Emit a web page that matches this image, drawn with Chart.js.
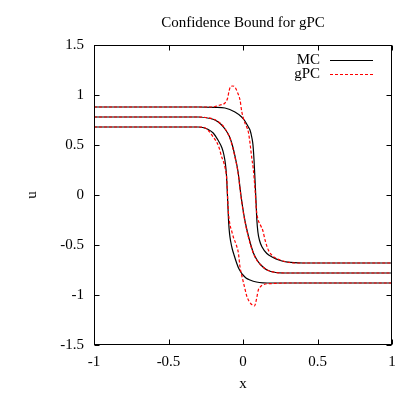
<!DOCTYPE html>
<html>
<head>
<meta charset="utf-8">
<script src="https://cdn.jsdelivr.net/npm/chart.js@4.4.0/dist/chart.umd.min.js"></script>
<style>
  html, body { margin: 0; padding: 0; background: #fff; }
  canvas { display: block; }
</style>
</head>
<body>
<canvas id="chart" width="415" height="395"></canvas>
<script>
// Axis ticks.
const xTicks = [-1, -0.5, 0, 0.5, 1];
const yTicks = [-1.5, -1, -0.5, 0, 0.5, 1, 1.5];

// MC: mean and the two confidence bounds.
const mcMeanX = [-1, -0.3, -0.22, -0.188, -0.15, -0.121, -0.1, -0.087, -0.07, -0.054, -0.034, -0.014, 0.005, 0.025, 0.047, 0.07, 0.094, 0.12, 0.161, 0.22, 0.3, 1];
const mcMeanY = [0.78, 0.78, 0.765, 0.75, 0.71, 0.66, 0.61, 0.57, 0.49, 0.39, 0.24, 0.0, -0.19, -0.34, -0.47, -0.58, -0.65, -0.70, -0.75, -0.775, -0.78, -0.78];

const mcUpX = [-1, -0.3, -0.188, -0.121, -0.054, -0.009, 0.013, 0.036, 0.047, 0.06, 0.067, 0.074, 0.08, 0.087, 0.093, 0.1, 0.11, 0.128, 0.16, 0.195, 0.25, 0.3, 0.4, 1];
const mcUpY = [0.88, 0.88, 0.877, 0.87, 0.83, 0.78, 0.74, 0.68, 0.65, 0.57, 0.5, 0.35, 0.17, -0.05, -0.25, -0.37, -0.45, -0.52, -0.585, -0.62, -0.655, -0.672, -0.68, -0.68];

const mcLowX = [-1, -0.3, -0.27, -0.24, -0.2, -0.168, -0.141, -0.128, -0.118, -0.111, -0.106, -0.101, -0.096, -0.09, -0.082, -0.072, -0.06, -0.045, -0.03, -0.015, 0, 0.02, 0.047, 0.09, 0.134, 0.2, 1];
const mcLowY = [0.68, 0.68, 0.675, 0.66, 0.62, 0.55, 0.47, 0.40, 0.31, 0.2, 0.05, -0.12, -0.28, -0.39, -0.47, -0.54, -0.6, -0.67, -0.73, -0.77, -0.80, -0.83, -0.85, -0.87, -0.878, -0.88, -0.88];

// gPC: mean and the two confidence bounds.
const gpcMeanX = [-1, -0.3, -0.22, -0.188, -0.15, -0.121, -0.1, -0.087, -0.07, -0.054, -0.034, -0.014, 0.005, 0.025, 0.047, 0.07, 0.094, 0.12, 0.161, 0.22, 0.3, 1];
const gpcMeanY = [0.78, 0.78, 0.768, 0.752, 0.715, 0.665, 0.61, 0.565, 0.48, 0.38, 0.23, -0.01, -0.2, -0.35, -0.48, -0.585, -0.655, -0.7, -0.748, -0.775, -0.78, -0.78];

const gpcUpX = [-1, -0.3, -0.2, -0.188, -0.154, -0.121, -0.103, -0.095, -0.085, -0.07, -0.054, -0.038, -0.02, -0.009, 0.002, 0.013, 0.025, 0.036, 0.047, 0.058, 0.069, 0.081, 0.09, 0.1, 0.12, 0.134, 0.148, 0.17, 0.2, 0.25, 0.36, 1];
const gpcUpY = [0.88, 0.88, 0.88, 0.885, 0.90, 0.92, 0.97, 1.03, 1.08, 1.09, 1.08, 1.03, 0.95, 0.84, 0.77, 0.72, 0.68, 0.63, 0.52, 0.38, 0.26, 0.05, -0.15, -0.24, -0.31, -0.36, -0.45, -0.55, -0.61, -0.65, -0.68, -0.68];

const gpcLowX = [-1, -0.3, -0.26, -0.23, -0.2, -0.177, -0.16, -0.143, -0.13, -0.12, -0.109, -0.099, -0.087, -0.076, -0.065, -0.045, -0.031, -0.02, -0.009, 0.002, 0.015, 0.025, 0.04, 0.054, 0.066, 0.076, 0.085, 0.092, 0.103, 0.115, 0.126, 0.15, 0.2, 0.3, 1];
const gpcLowY = [0.68, 0.68, 0.675, 0.64, 0.58, 0.53, 0.47, 0.38, 0.33, 0.27, 0.16, -0.15, -0.30, -0.36, -0.42, -0.50, -0.58, -0.72, -0.80, -0.87, -0.95, -1.01, -1.06, -1.09, -1.10, -1.11, -1.08, -1.03, -0.95, -0.92, -0.905, -0.89, -0.885, -0.88, -0.88];

const serif = '"Liberation Serif", "DejaVu Serif", serif';

Chart.defaults.color = '#000';
Chart.defaults.font.family = serif;
Chart.defaults.font.size = 15;

function toPoints(xs, ys) {
    return xs.map((x, i) => ({ x: x, y: ys[i] }));
}

function mcLine(xs, ys) {
    return {
        label: 'MC',
        data: toPoints(xs, ys),
        borderColor: '#000000',
        borderWidth: 1.2,
        pointRadius: 0,
        cubicInterpolationMode: 'monotone',
        order: 2
    };
}

function gpcLine(xs, ys) {
    return {
        label: 'gPC',
        data: toPoints(xs, ys),
        borderColor: '#ff0000',
        borderWidth: 1.2,
        borderDash: [3, 2],
        pointRadius: 0,
        cubicInterpolationMode: 'monotone',
        order: 1
    };
}

// Box around the plot with inward ticks on all four sides.
const framePlugin = {
    id: 'frame',
    afterDatasetsDraw(chart) {
        const ctx = chart.ctx;
        const ca = chart.chartArea;
        const tick = 5;
        ctx.save();
        ctx.strokeStyle = '#000';
        ctx.lineWidth = 1;
        ctx.setLineDash([]);
        const l = Math.round(ca.left) + 0.5, r = Math.round(ca.right) - 0.5;
        const t = Math.round(ca.top) + 0.5, b = Math.round(ca.bottom) - 0.5;
        ctx.strokeRect(l, t, r - l, b - t);
        ctx.beginPath();
        for (const v of xTicks) {
            const px = Math.round(chart.scales.x.getPixelForValue(v)) + 0.5;
            ctx.moveTo(px, b); ctx.lineTo(px, b - tick);
            ctx.moveTo(px, t); ctx.lineTo(px, t + tick);
        }
        for (const v of yTicks) {
            const py = Math.round(chart.scales.y.getPixelForValue(v)) + 0.5;
            ctx.moveTo(l, py); ctx.lineTo(l + tick, py);
            ctx.moveTo(r, py); ctx.lineTo(r - tick, py);
        }
        ctx.stroke();
        ctx.restore();
    }
};

// gnuplot style key: text on the left, line sample on the right.
const keyPlugin = {
    id: 'key',
    afterDraw(chart) {
        const ctx = chart.ctx;
        const ca = chart.chartArea;
        const seen = [];
        chart.data.datasets.forEach(ds => {
            if (!seen.find(s => s.label === ds.label)) seen.push(ds);
        });
        ctx.save();
        ctx.font = '15px ' + serif;
        ctx.textAlign = 'right';
        ctx.textBaseline = 'middle';
        seen.forEach((ds, i) => {
            const y = ca.top + 15 + i * 14;
            ctx.fillStyle = '#000';
            ctx.fillText(ds.label, ca.right - 72, y);
            ctx.strokeStyle = ds.borderColor;
            ctx.lineWidth = 1.2;
            ctx.setLineDash(ds.borderDash || []);
            ctx.beginPath();
            ctx.moveTo(ca.right - 62, Math.round(y) + 0.5);
            ctx.lineTo(ca.right - 19, Math.round(y) + 0.5);
            ctx.stroke();
        });
        ctx.restore();
    }
};

new Chart(document.getElementById('chart'), {
    type: 'line',
    data: {
        datasets: [
            mcLine(mcUpX, mcUpY),
            mcLine(mcMeanX, mcMeanY),
            mcLine(mcLowX, mcLowY),
            gpcLine(gpcUpX, gpcUpY),
            gpcLine(gpcMeanX, gpcMeanY),
            gpcLine(gpcLowX, gpcLowY)
        ]
    },
    options: {
        responsive: false,
        animation: false,
        devicePixelRatio: 1,
        layout: {
            padding: { left: 0, right: 23, top: 0, bottom: 0 }
        },
        plugins: {
            legend: { display: false },
            tooltip: { enabled: false },
            title: {
                display: true,
                text: 'Confidence Bound for gPC',
                fullSize: false,
                color: '#000',
                font: { family: serif, size: 15, weight: 'normal' },
                padding: { top: 14, bottom: 13 }
            }
        },
        scales: {
            x: {
                type: 'linear',
                min: -1,
                max: 1,
                afterBuildTicks: scale => { scale.ticks = xTicks.map(v => ({ value: v })); },
                afterFit: scale => { scale.height = 50; },
                grid: { display: false, drawTicks: false },
                border: { display: false },
                ticks: {
                    padding: 8,
                    maxRotation: 0,
                    callback: v => String(v)
                },
                title: {
                    display: true,
                    text: 'x',
                    font: { family: serif, size: 15 },
                    padding: { top: 0, bottom: 2 }
                }
            },
            y: {
                type: 'linear',
                min: -1.5,
                max: 1.5,
                afterBuildTicks: scale => { scale.ticks = yTicks.map(v => ({ value: v })); },
                afterFit: scale => { scale.width = 94; },
                grid: { display: false, drawTicks: false },
                border: { display: false },
                ticks: {
                    padding: 10,
                    callback: v => String(v)
                },
                title: {
                    display: true,
                    text: 'u',
                    font: { family: serif, size: 15 },
                    padding: { top: 23, bottom: 0 }
                }
            }
        }
    },
    plugins: [framePlugin, keyPlugin]
});
</script>
</body>
</html>
